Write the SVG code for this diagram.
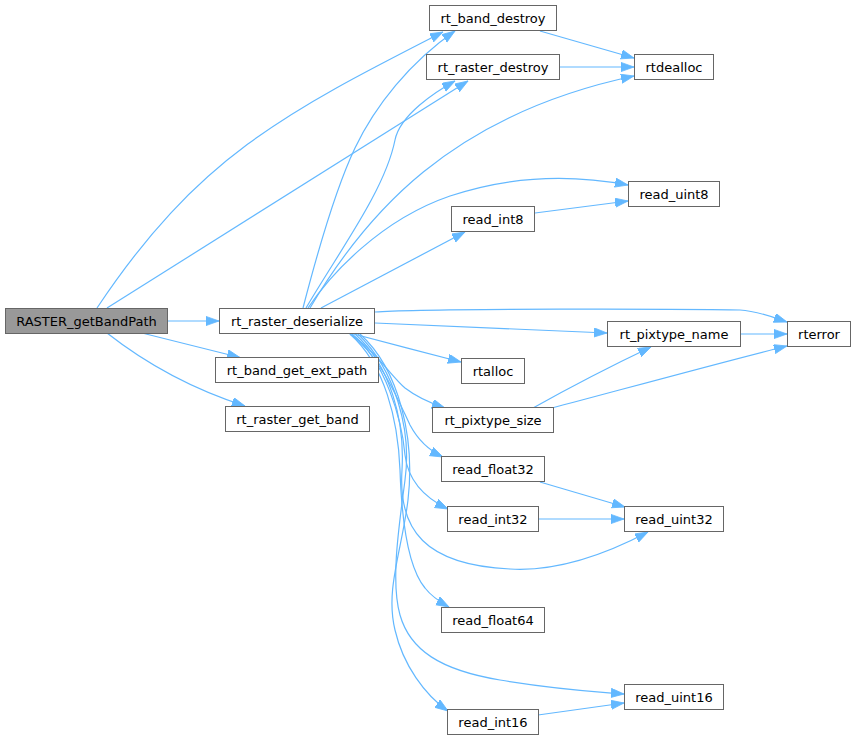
<svg xmlns="http://www.w3.org/2000/svg" width="856" height="740" viewBox="0 0 856 740">
<style>
.n rect{fill:#ffffff;stroke:#666666;stroke-width:1}
.n.root rect{fill:#999999}
.n text{font-family:"DejaVu Sans","Liberation Sans",sans-serif;font-size:13px;fill:#000000;text-anchor:middle}
.e path{fill:none;stroke:#63b8ff;stroke-width:1.2;marker-end:url(#ah)}
</style>
<defs>
<marker id="ah" markerUnits="userSpaceOnUse" markerWidth="14" markerHeight="10" refX="13" refY="4.6" orient="auto">
<path d="M0,0 L13,4.6 L0,9.2 z" fill="#63b8ff" stroke="#63b8ff" stroke-width="0.8"/>
</marker>
</defs>
<rect width="856" height="740" fill="#ffffff"/>
<g id="edges" class="e">
<path d="M97,308 C197,158 283,113.6 443,32"/>
<path d="M107,308 L468,81"/>
<path d="M168,321 L219,321"/>
<path d="M142,333 L240,357.5"/>
<path d="M107,333 C135,355 180,385 245,406"/>
<path d="M303,308 C318,250 335,190 355,148 C375,106 410,62 455,31"/>
<path d="M306,308 C340,250 385,190 395,140 C400,115 435,92 455,81"/>
<path d="M310,308 C365,215 450,115 634,76"/>
<path d="M308,308 C330,275 380,220 450,196 C510,176 570,174 628,185"/>
<path d="M321,308 L465,232"/>
<path d="M375,312 C420,308 700,309 740,310 C758,311 772,317 787,322"/>
<path d="M375,323 L607,333"/>
<path d="M350,333 C380,341 430,354 461,362"/>
<path d="M350,334 C375,350 390,375 405,388 C418,398 430,403 445,408"/>
<path d="M350,334 C380,355 398,400 410,425 C418,440 428,450 443,457"/>
<path d="M352,334 C385,360 402,420 405,455 C408,480 425,498 448,509"/>
<path d="M355,334 C390,365 405,420 402,470 C398,530 425,565 510,569 C560,572 610,552 648,532"/>
<path d="M350,334 C385,365 398,420 400,470 C402,530 410,570 425,588 C432,597 440,602 449,607"/>
<path d="M358,334 C395,370 412,430 405,480 C400,520 390,580 400,615 C410,650 440,670 500,680 C560,690 600,692 624,694"/>
<path d="M360,334 C400,370 415,440 408,500 C402,550 385,590 395,630 C403,665 425,695 448,711"/>
<path d="M540,31 L634,58"/>
<path d="M560,67 L634,67"/>
<path d="M535,213 L628,201"/>
<path d="M740,334 L787,334"/>
<path d="M533,408 Q590,376 651,347"/>
<path d="M552,408 C620,390 730,360 787,346"/>
<path d="M540,482 L625,507"/>
<path d="M538,519 L624,519"/>
<path d="M538,715 L624,703"/>
</g>
<g id="RASTER_getBandPath" class="n root"><rect x="5.5" y="308.5" width="162" height="25"/><text x="86.5" y="325.7">RASTER_getBandPath</text></g>
<g id="rt_raster_deserialize" class="n"><rect x="219.5" y="308.5" width="155" height="25"/><text x="297" y="325.7">rt_raster_deserialize</text></g>
<g id="rt_band_get_ext_path" class="n"><rect x="215.5" y="357.5" width="163" height="25"/><text x="297" y="374.7">rt_band_get_ext_path</text></g>
<g id="rt_raster_get_band" class="n"><rect x="225.5" y="406.5" width="144" height="25"/><text x="297.5" y="423.7">rt_raster_get_band</text></g>
<g id="rt_band_destroy" class="n"><rect x="429.5" y="5.5" width="127" height="25"/><text x="493" y="22.7">rt_band_destroy</text></g>
<g id="rt_raster_destroy" class="n"><rect x="426.5" y="54.5" width="133" height="25"/><text x="493" y="71.7">rt_raster_destroy</text></g>
<g id="read_int8" class="n"><rect x="451.5" y="206.5" width="83" height="25"/><text x="493" y="223.7">read_int8</text></g>
<g id="rtalloc" class="n"><rect x="461.5" y="358.5" width="63" height="25"/><text x="493" y="375.7">rtalloc</text></g>
<g id="rt_pixtype_size" class="n"><rect x="432.5" y="407.5" width="121" height="25"/><text x="493" y="424.7">rt_pixtype_size</text></g>
<g id="read_float32" class="n"><rect x="441.5" y="456.5" width="103" height="25"/><text x="493" y="473.7">read_float32</text></g>
<g id="read_int32" class="n"><rect x="447.5" y="506.5" width="91" height="25"/><text x="493" y="523.7">read_int32</text></g>
<g id="read_float64" class="n"><rect x="441.5" y="607.5" width="103" height="25"/><text x="493" y="624.7">read_float64</text></g>
<g id="read_int16" class="n"><rect x="447.5" y="709.5" width="91" height="25"/><text x="493" y="726.7">read_int16</text></g>
<g id="rtdealloc" class="n"><rect x="634.5" y="54.5" width="79" height="25"/><text x="674" y="71.7">rtdealloc</text></g>
<g id="read_uint8" class="n"><rect x="628.5" y="181.5" width="91" height="25"/><text x="674" y="198.7">read_uint8</text></g>
<g id="rt_pixtype_name" class="n"><rect x="607.5" y="321.5" width="133" height="25"/><text x="674" y="338.7">rt_pixtype_name</text></g>
<g id="read_uint32" class="n"><rect x="624.5" y="506.5" width="99" height="25"/><text x="674" y="523.7">read_uint32</text></g>
<g id="read_uint16" class="n"><rect x="624.5" y="684.5" width="99" height="25"/><text x="674" y="701.7">read_uint16</text></g>
<g id="rterror" class="n"><rect x="787.5" y="321.5" width="63" height="25"/><text x="819" y="338.7">rterror</text></g>
</svg>
